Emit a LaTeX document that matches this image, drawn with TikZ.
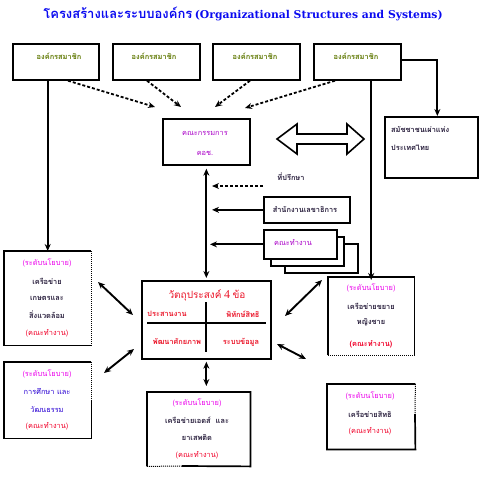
\documentclass[tikz,border=0pt]{standalone}
\usepackage{fontspec}
\usetikzlibrary{arrows.meta}
\setmainfont{Liberation Serif}
\newfontfamily\thai[Script=Thai]{Loma}
\newfontfamily\titlelat{DejaVu Serif}
\definecolor{titleblue}{RGB}{10,10,240}
\definecolor{memtext}{RGB}{95,120,0}
\definecolor{purptext}{RGB}{170,0,200}
\definecolor{magtext}{RGB}{235,0,235}
\definecolor{redtext}{RGB}{240,0,40}
\definecolor{darktext}{RGB}{40,30,60}
\definecolor{bluetext}{RGB}{40,0,210}
\definecolor{objtext}{RGB}{235,20,40}
\tikzset{
  frame/.style={draw, line width=1.7pt, inner sep=0pt, fill=white},
  area/.style={inner sep=0pt},
  th/.style={font=\thai\fontsize{7.4}{8}\selectfont, inner sep=0pt},
  thb/.style={font=\thai\bfseries\fontsize{7.4}{8}\selectfont, inner sep=0pt},
  edge/.style={line width=1.7pt},
  thin edge/.style={line width=1pt, dash pattern=on 1pt off 1pt},
  tip/.style={-{Stealth[length=7pt,width=6pt]}},
  dasharr/.style={tip, line width=1.8pt, dash pattern=on 3pt off 2pt},
  solarr/.style={tip, line width=2pt},
  dblarr/.style={{Stealth[length=7pt,width=6pt]}-{Stealth[length=7pt,width=6pt]}, line width=1.9pt}
}
\begin{document}
\begin{tikzpicture}[x=1pt,y=-1pt]
\useasboundingbox (0,0) rectangle (479,495);
% title
\node[inner sep=0pt, text=titleblue] (title) at (243,14)
  {{\thai\bfseries\fontsize{13}{14}\selectfont โครงสร้างและระบบองค์กร} {\titlelat\bfseries\fontsize{10.8}{13}\selectfont (Organizational Structures and Systems)}};
% member boxes
\node[frame, minimum width=86, minimum height=36, anchor=north west] (m1) at (12,43) {};
\node[frame, minimum width=87, minimum height=36, anchor=north west] (m2) at (112,43) {};
\node[frame, minimum width=87, minimum height=36, anchor=north west] (m3) at (212,43) {};
\node[frame, minimum width=87, minimum height=36, anchor=north west] (m4) at (313,43) {};
\node[thb, text=memtext] (m1t) at (59,56) {องค์กรสมาชิก};
\node[thb, text=memtext] (m2t) at (154,56) {องค์กรสมาชิก};
\node[thb, text=memtext] (m3t) at (255,56) {องค์กรสมาชิก};
\node[thb, text=memtext] (m4t) at (356,56) {องค์กรสมาชิก};
% committee
\node[frame, minimum width=87, minimum height=46, anchor=north west] (comm) at (162,118) {};
\node[th, text=purptext] (commt1) at (205,133) {คณะกรรมการ};
\node[th, text=purptext] (commt2) at (205,153) {คอช.};
% assembly box
\node[frame, minimum width=93, minimum height=61, anchor=north west] (asm) at (384,116) {};
\node[thb, text=darktext, anchor=west] (asmt1) at (391,130) {สมัชชาชนเผ่าแห่ง};
\node[thb, text=darktext, anchor=west] (asmt2) at (391,148) {ประเทศไทย};
% hollow double arrow
\draw[line width=1.6pt, line join=miter] (277,139) -- (297,124) -- (297,134) -- (347,134) -- (347,124)
  -- (364,139) -- (347,154) -- (347,144) -- (297,144) -- (297,154) -- cycle;
% advisor, secretariat, working groups
\node[thb, text=darktext] (adv) at (291,177) {ที่ปรึกษา};
\coordinate (advs) at (263,186);
\coordinate (adve) at (212,186);
\node[frame, minimum width=86, minimum height=26, anchor=north west] (sec) at (263,196) {};
\node[thb, text=darktext] (sect) at (305,209) {สำนักงานเลขาธิการ};
\node[frame, minimum width=73, minimum height=29, anchor=north west] (wg3) at (284,243) {};
\node[frame, minimum width=73, minimum height=29, anchor=north west] (wg2) at (270,236) {};
\node[frame, minimum width=73, minimum height=29, anchor=north west] (wg1) at (263,229) {};
\node[th, text=purptext] (wgt) at (293,243) {คณะทำงาน};
% objectives
\node[frame, minimum width=129, minimum height=78, anchor=north west] (obj) at (141,280) {};
\node[text=objtext, inner sep=0pt] (objt) at (207,295)
  {{\thai\fontsize{10}{12}\selectfont วัตถุประสงค์} {\fontsize{12}{14}\selectfont 4} {\thai\fontsize{10}{12}\selectfont ข้อ}};
\draw[line width=1.3pt] (147,323) -- (266,323);
\draw[line width=1.3pt] (206,302) -- (206,352);
\node[thb, text=objtext] (o1) at (167,314) {ประสานงาน};
\node[thb, text=objtext] (o2) at (243,314) {พิทักษ์สิทธิ};
\node[thb, text=objtext] (o3) at (177,342) {พัฒนาศักยภาพ};
\node[thb, text=objtext] (o4) at (241,342) {ระบบข้อมูล};
% left policy box 1
\node[area, minimum width=87, minimum height=94, anchor=north west] (p1) at (4,251) {};
\draw[edge] (p1.north east) -- (p1.north west) -- (p1.south west) -- (p1.south east);
\draw[thin edge] (p1.north east) -- (p1.south east);
\node[th, text=magtext] (p1a) at (47,263) {(ระดับนโยบาย)};
\node[thb, text=darktext] (p1b) at (47,281) {เครือข่าย};
\node[thb, text=darktext] (p1c) at (47,298) {เกษตรและ};
\node[thb, text=darktext] (p1d) at (47,315) {สิ่งแวดล้อม};
\node[th, text=redtext] (p1e) at (47,333) {(คณะทำงาน)};
% left policy box 2
\node[area, minimum width=87, minimum height=76, anchor=north west] (p2) at (4,362) {};
\draw[edge] (p2.north east) -- (p2.north west) -- (p2.south west) -- (p2.south east) -- (p2.east);
\draw[thin edge] (p2.north east) -- (p2.east);
\node[th, text=magtext] (p2a) at (47,374) {(ระดับนโยบาย)};
\node[th, text=bluetext] (p2b) at (47,391) {การศึกษา และ};
\node[th, text=bluetext] (p2c) at (47,410) {วัฒนธรรม};
\node[th, text=redtext] (p2d) at (47,426) {(คณะทำงาน)};
% right policy box 1
\node[area, minimum width=86, minimum height=78, anchor=north west] (r1) at (328,277) {};
\draw[edge] (r1.south west) -- (r1.north west) -- (r1.north east) -- (r1.south east);
\draw[thin edge] (r1.south west) -- (r1.south east);
\node[th, text=magtext] (r1a) at (371,288) {(ระดับนโยบาย)};
\node[thb, text=darktext] (r1b) at (371,306) {เครือข่ายขยาย};
\node[thb, text=darktext] (r1c) at (371,322) {หญิงชาย};
\node[thb, text=redtext] (r1d) at (371,344) {(คณะทำงาน)};
% right policy box 2
\node[area, minimum width=88, minimum height=65, anchor=north west] (r2) at (327,384) {};
\coordinate (r2mid) at (415,414);
\draw[edge] (r2mid) -- (r2.south east) -- (r2.south west) -- (r2.north west) -- (r2.north east);
\draw[thin edge] (r2.north east) -- (r2mid);
\node[th, text=magtext] (r2a) at (370,396) {(ระดับนโยบาย)};
\node[thb, text=darktext] (r2b) at (370,414) {เครือข่ายสิทธิ};
\node[th, text=redtext] (r2c) at (370,431) {(คณะทำงาน)};
% bottom policy box
\node[area, minimum width=103, minimum height=74, anchor=north west] (bot) at (147,392) {};
\coordinate (botmid) at (182,466);
\draw[edge] (botmid) -- (bot.south east) -- (bot.north east) -- (bot.north west) -- (bot.south west);
\draw[thin edge] (bot.south west) -- (botmid);
\node[th, text=magtext] (bota) at (197,403) {(ระดับนโยบาย)};
\node[thb, text=darktext] (botb) at (197,420) {เครือข่ายเอดส์ \ และ};
\node[thb, text=darktext] (botc) at (197,437) {ยาเสพติด};
\node[th, text=redtext] (botd) at (197,455) {(คณะทำงาน)};
% connectors
\coordinate (c1) at (155,107);
\coordinate (c2) at (181,107);
\coordinate (c3) at (215,107);
\coordinate (c4) at (245,108);
\draw[dasharr] ([xshift=56pt]m1.south west) -- (c1);
\draw[dasharr] ([xshift=35pt]m2.south west) -- (c2);
\draw[dasharr] ([xshift=38pt]m3.south west) -- (c3);
\draw[dasharr] ([xshift=22pt]m4.south west) -- (c4);
\draw[solarr] (p1.north |- m1.south) -- (p1.north);
\draw[solarr] (r1.north |- m4.south) -- ([yshift=-3pt]r1.north);
\draw[solarr] ([yshift=2pt]m4.east) -| ([xshift=6pt]asm.north);
\draw[dblarr, shorten <=3pt, shorten >=2pt] (comm.south) -- (obj.north);
\draw[dasharr] (advs) -- (adve);
\draw[solarr] (sec.west) -- (sec.west -| 212,0);
\draw[solarr] (wg1.west) -- (wg1.west -| 210,0);
\draw[dblarr, shorten <=2pt, shorten >=6pt] (obj.south) -- (obj.south |- bot.north);
\coordinate (d1a) at (98,282); \coordinate (d1b) at (133,315);
\coordinate (d2a) at (104,373); \coordinate (d2b) at (134,349);
\coordinate (d3a) at (285,316); \coordinate (d3b) at (322,280);
\coordinate (d4a) at (277,344); \coordinate (d4b) at (306,359);
\draw[dblarr] (d1a) -- (d1b);
\draw[dblarr] (d2a) -- (d2b);
\draw[dblarr] (d3a) -- (d3b);
\draw[dblarr] (d4a) -- (d4b);
\end{tikzpicture}
\end{document}
